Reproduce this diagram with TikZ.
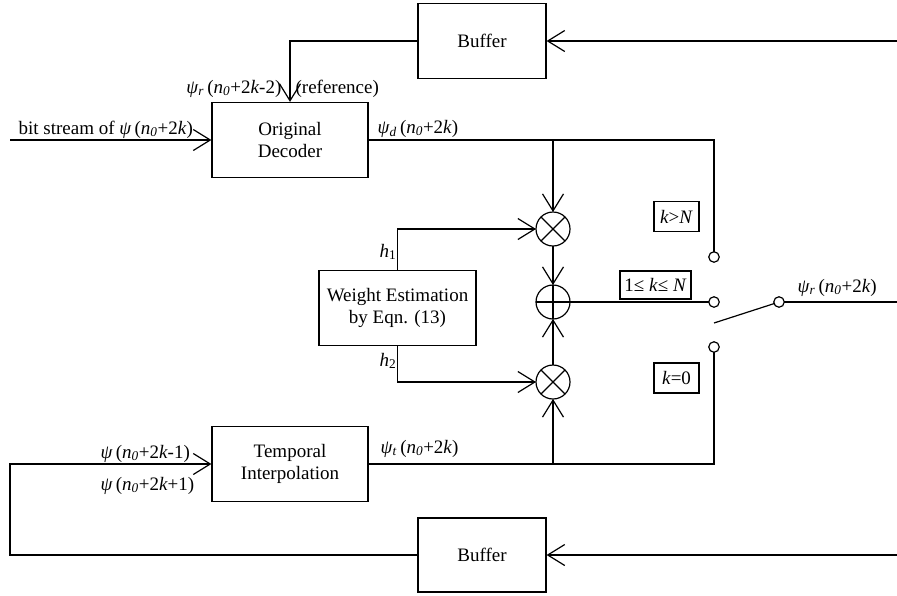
\documentclass[tikz,border=0pt]{standalone}
\usepackage{fontspec}
\setmainfont{Liberation Serif}
\usetikzlibrary{arrows.meta, positioning}

\newcommand{\vpsi}[1]{\textit{ψ}\textsubscript{\textit{#1}}}
\newcommand{\targ}[1]{(\textit{n}\textsubscript{\textit{0}}+2\textit{k}#1)}

\begin{document}
\begin{tikzpicture}[
  x=1pt, y=-1pt, line width=1.2pt,
  font=\fontsize{19}{22}\selectfont,
  blk/.style={draw, rectangle, minimum height=75pt, align=center, inner sep=0pt},
  op/.style={draw, circle, minimum size=34pt, inner sep=0pt, outer sep=0pt},
  term/.style={draw, circle, minimum size=10.5pt, inner sep=0pt, outer sep=0pt, fill=white},
  cond/.style={draw, rectangle, inner sep=0pt, minimum height=30pt},
  flow/.style={-{Straight Barb[length=17pt, width=21pt]}},
  lab/.style={anchor=base west, inner sep=0pt},
]
\useasboundingbox (0,0) rectangle (897,595);

% blocks
\node[blk, minimum width=128pt] (buftop) at (482,41) {Buffer};
\node[blk, minimum width=156pt] (dec) at (290,140) {Original\\Decoder};
\node[blk, minimum width=157pt] (wgt) at (397.5,308) {Weight Estimation\\by Eqn. (13)};
\node[blk, minimum width=156pt] (temp) at (290,464) {Temporal\\Interpolation};
\node[blk, minimum width=128pt, minimum height=74pt] (bufbot) at (482,555) {Buffer};

% multipliers and adder
\node[op] (m1) at (553,229) {};
\node[op] (add) at (553,302) {};
\node[op] (m2) at (553,382) {};
\draw (m1.north west) -- (m1.south east) (m1.north east) -- (m1.south west);
\draw (m2.north west) -- (m2.south east) (m2.north east) -- (m2.south west);
\draw (add.north) -- (add.south) (add.west) -- (add.east);

% switch
\node[term] (sw1) at (714,257) {};
\node[term] (sw2) at (714,302) {};
\node[term] (sw3) at (714,347) {};
\node[term] (swc) at (779,302) {};

\node[cond, minimum width=45pt] (kgt) at (676.5,216.5) {\textit{k}>\textit{N}};
\node[cond, minimum width=71pt, minimum height=28pt] (krange) at (655.5,285) {1≤ \textit{k}≤ \textit{N}};
\node[cond, minimum width=45pt] (kzero) at (676.5,378) {\textit{k}=0};

\coordinate (in1) at (10,140);
\coordinate (in2) at (10,464);
\coordinate (rt1) at (897,41);
\coordinate (rt2) at (897,555);
\coordinate (out) at (897,302);
\coordinate (arm) at (714,323);

% connectors
\draw[flow] (rt1) -- (buftop.east);
\draw[flow] (buftop.west) -- (buftop.west -| dec.north) -- (dec.north);
\draw[flow] (in1) -- (dec.west);
\draw (dec.east) -- (dec.east -| sw1) -- (sw1.north);
\draw[flow] (dec.east -| m1) -- (m1.north);
\draw[flow] (wgt.north) -- (wgt.north |- m1) -- (m1.west);
\draw[flow] (wgt.south) -- (wgt.south |- m2) -- (m2.west);
\draw[flow] (m1.south) -- (add.north);
\draw[flow] (m2.north) -- (add.south);
\draw (add.east) -- (sw2.west);
\draw (swc.east) -- (out);
\draw (swc.198) -- (arm);
\draw[flow] (bufbot.west) -- (bufbot.west -| in2) -- (in2) -- (temp.west);
\draw (temp.east) -- (temp.east -| sw3) -- (sw3.south);
\draw[flow] (temp.east -| m2) -- (m2.south);
\draw[flow] (rt2) -- (bufbot.east);

% labels
\node[lab] (lbit) at (18,134) {bit stream of \textit{ψ}\,\targ{}};
\node[lab, anchor=base east] (lref) at (282,93) {\vpsi{r}\,\targ{-2}};
\node[lab] (lrefb) at (295,93) {(reference)};
\node[lab] (ld) at (377,133) {\vpsi{d}\,\targ{}};
\node[lab] (lt) at (380,453) {\vpsi{t}\,\targ{}};
\node[lab] (lm) at (100,458) {\textit{ψ}\,\targ{-1}};
\node[lab] (lp) at (100,490) {\textit{ψ}\,\targ{+1}};
\node[lab] (lr) at (797,292) {\vpsi{r}\,\targ{}};
\node[lab] (lh1) at (379,257) {\textit{h}\textsubscript{1}};
\node[lab] (lh2) at (379,366) {\textit{h}\textsubscript{2}};
\end{tikzpicture}
\end{document}
